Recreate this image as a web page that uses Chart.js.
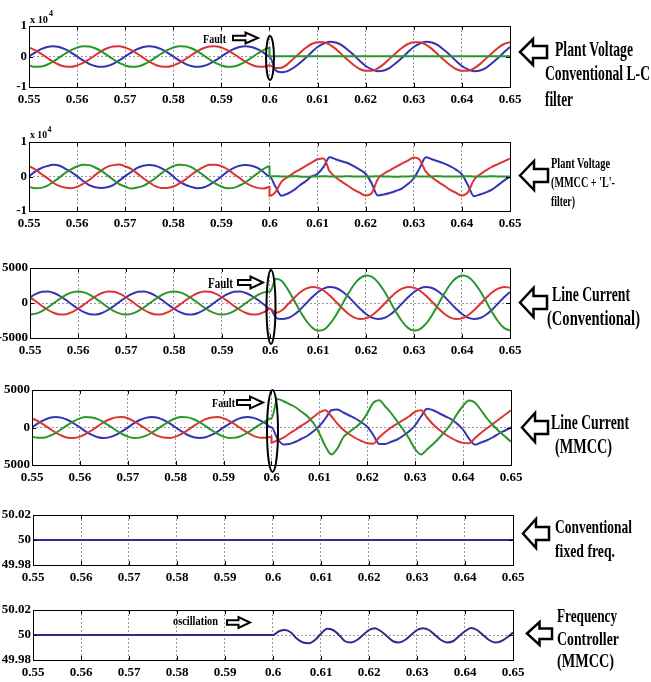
<!DOCTYPE html>
<html>
<head>
<meta charset="utf-8">
<script src="https://cdn.jsdelivr.net/npm/chart.js@4.4.0/dist/chart.umd.min.js"></script>
<style>
  html, body { margin: 0; padding: 0; background: #fff; }
  #page { position: relative; width: 651px; height: 682px; overflow: hidden; background: #fff; }
  #page canvas { position: absolute; left: 0; }
  #notes { position: absolute; left: 0; top: 0; }
  #notes text { font-family: "Liberation Serif", "Times New Roman", serif; font-weight: bold; fill: #000; }
</style>
</head>
<body>
<div id="page">
  <canvas id="p1"></canvas>
  <canvas id="p2"></canvas>
  <canvas id="p3"></canvas>
  <canvas id="p4"></canvas>
  <canvas id="p5"></canvas>
  <canvas id="p6"></canvas>
  <svg id="notes" width="651" height="682" viewBox="0 0 651 682">
    <!-- fault markers -->
    <g fill="none" stroke="#000" stroke-width="2">
      <ellipse cx="270" cy="58" rx="4" ry="22"/>
      <ellipse cx="271" cy="307" rx="4.5" ry="37"/>
      <ellipse cx="272.5" cy="431" rx="5.5" ry="41"/>
    </g>
    <g fill="#fff" stroke="#000" stroke-width="2" stroke-linejoin="miter">
      <path d="M233,35.8 L245.5,35.8 L245.5,32.5 L258,38 L245.5,43.5 L245.5,40.2 L233,40.2 Z"/>
      <path d="M238,280 L250.5,280 L250.5,276.5 L263,282.5 L250.5,288.5 L250.5,285 L238,285 Z"/>
      <path d="M237,400 L250,400 L250,396.5 L263,402.5 L250,408.5 L250,405 L237,405 Z"/>
      <path d="M227,620.3 L238.5,620.3 L238.5,617 L250,622.5 L238.5,628 L238.5,624.7 L227,624.7 Z"/>
    </g>
    <!-- big arrows pointing at the panels -->
    <g fill="#fff" stroke="#000" stroke-width="2.5" stroke-linejoin="miter">
      <path d="M520,52 L533,39 L533,46 L547,46 L547,58 L533,58 L533,65 Z"/>
      <path d="M520,175.5 L534,161 L534,169 L548,169 L548,182 L534,182 L534,190 Z"/>
      <path d="M520,302.5 L533.5,288 L533.5,296 L547,296 L547,309 L533.5,309 L533.5,317 Z"/>
      <path d="M522,427.5 L535,413 L535,421 L548,421 L548,434 L535,434 L535,442 Z"/>
      <path d="M523,533.5 L536,519 L536,527 L549,527 L549,540 L536,540 L536,548 Z"/>
      <path d="M527,633.5 L539.5,622 L539.5,628.5 L552,628.5 L552,639 L539.5,639 L539.5,645 Z"/>
    </g>
    <text x="203" y="42.5" font-size="13" textLength="23" lengthAdjust="spacingAndGlyphs">Fault</text>
    <text x="208" y="287.5" font-size="14" textLength="25" lengthAdjust="spacingAndGlyphs">Fault</text>
    <text x="212" y="406.5" font-size="13" textLength="23" lengthAdjust="spacingAndGlyphs">Fault</text>
    <text x="173" y="625" font-size="13" textLength="45" lengthAdjust="spacingAndGlyphs">oscillation</text>
    <text x="30" y="23" font-size="11" textLength="18" lengthAdjust="spacingAndGlyphs">x 10</text>
    <text x="49" y="16" font-size="8">4</text>
    <text x="30" y="137.5" font-size="11" textLength="17" lengthAdjust="spacingAndGlyphs">x 10</text>
    <text x="47.5" y="132" font-size="8">4</text>

    <text x="555" y="56" font-size="20" textLength="78" lengthAdjust="spacingAndGlyphs">Plant Voltage</text>
    <text x="545" y="80" font-size="20" textLength="105" lengthAdjust="spacingAndGlyphs">Conventional L-C</text>
    <text x="545" y="106" font-size="20" textLength="28" lengthAdjust="spacingAndGlyphs">filter</text>
    <text x="551" y="168" font-size="15" textLength="59" lengthAdjust="spacingAndGlyphs">Plant Voltage</text>
    <text x="551" y="187" font-size="15" textLength="64" lengthAdjust="spacingAndGlyphs">(MMCC + 'L'-</text>
    <text x="551" y="206" font-size="15" textLength="24" lengthAdjust="spacingAndGlyphs">filter)</text>
    <text x="552" y="300.5" font-size="20" textLength="78" lengthAdjust="spacingAndGlyphs">Line Current</text>
    <text x="547" y="325" font-size="20" textLength="93" lengthAdjust="spacingAndGlyphs">(Conventional)</text>
    <text x="551" y="429" font-size="20" textLength="78" lengthAdjust="spacingAndGlyphs">Line Current</text>
    <text x="555" y="453" font-size="20" textLength="57" lengthAdjust="spacingAndGlyphs">(MMCC)</text>
    <text x="555" y="533" font-size="19" textLength="77" lengthAdjust="spacingAndGlyphs">Conventional</text>
    <text x="555" y="556.5" font-size="19" textLength="60" lengthAdjust="spacingAndGlyphs">fixed freq.</text>
    <text x="557" y="621.5" font-size="18" textLength="60" lengthAdjust="spacingAndGlyphs">Frequency</text>
    <text x="557" y="645" font-size="18" textLength="62" lengthAdjust="spacingAndGlyphs">Controller</text>
    <text x="557" y="667" font-size="18" textLength="57" lengthAdjust="spacingAndGlyphs">(MMCC)</text>
  </svg>
</div>
<script>
// time axis (s); 0.6 appears twice so the fault can jump
const TIME = [
  0.55, 0.55125, 0.5525, 0.55375, 0.555, 0.55625, 0.5575, 0.55875, 0.56, 0.56125, 0.5625, 0.56375, 0.565, 0.56625, 0.5675, 0.56875,
  0.57, 0.57125, 0.5725, 0.57375, 0.575, 0.57625, 0.5775, 0.57875, 0.58, 0.58125, 0.5825, 0.58375, 0.585, 0.58625, 0.5875, 0.58875,
  0.59, 0.59125, 0.5925, 0.59375, 0.595, 0.59625, 0.5975, 0.59875, 0.6,
  0.6, 0.60125, 0.6025, 0.60375, 0.605, 0.60625, 0.6075, 0.60875, 0.61, 0.61125, 0.6125, 0.61375, 0.615, 0.61625, 0.6175, 0.61875,
  0.62, 0.62125, 0.6225, 0.62375, 0.625, 0.62625, 0.6275, 0.62875, 0.63, 0.63125, 0.6325, 0.63375, 0.635, 0.63625, 0.6375, 0.63875,
  0.64, 0.64125, 0.6425, 0.64375, 0.645, 0.64625, 0.6475, 0.64875, 0.65
];

// Plant voltage, conventional L-C filter (x 10^4)
const lcVoltBlue = [
  0,.13,.24,.31,.34,.31,.24,.13,0,-.13,-.24,-.31,-.34,-.31,-.24,-.13,
  0,.13,.24,.31,.34,.31,.24,.13,0,-.13,-.24,-.31,-.34,-.31,-.24,-.13,
  0,.13,.24,.31,.34,.31,.24,.13,0,
  0,-.45,-.52,-.48,-.37,-.22,-.05,.14,.31,.42,.48,.46,.37,.22,.05,-.14,
  -.31,-.42,-.48,-.46,-.37,-.22,-.05,.14,.31,.42,.48,.46,.37,.22,.05,-.14,
  -.31,-.42,-.48,-.46,-.37,-.22,-.05,.14,.31
];
const lcVoltRed = [
  .29,.21,.09,-.04,-.17,-.27,-.33,-.34,-.29,-.21,-.09,.04,.17,.27,.33,.34,
  .29,.21,.09,-.04,-.17,-.27,-.33,-.34,-.29,-.21,-.09,.04,.17,.27,.33,.34,
  .29,.21,.09,-.04,-.17,-.27,-.33,-.34,-.29,
  -.29,-.38,-.37,-.25,-.07,.11,.28,.41,.47,.47,.39,.25,.07,-.11,-.28,-.41,
  -.47,-.47,-.39,-.25,-.07,.11,.28,.41,.47,.47,.39,.25,.07,-.11,-.28,-.41,
  -.47,-.47,-.39,-.25,-.07,.11,.28,.41,.47
];
const lcVoltGreen = [
  -.29,-.34,-.33,-.27,-.17,-.04,.09,.21,.29,.34,.33,.27,.17,.04,-.09,-.21,
  -.29,-.34,-.33,-.27,-.17,-.04,.09,.21,.29,.34,.33,.27,.17,.04,-.09,-.21,
  -.29,-.34,-.33,-.27,-.17,-.04,.09,.21,.29,
  .01,.01,.01,.01,.01,.01,.01,.01,.01,.01,.01,.01,.01,.01,.01,.01,
  .01,.01,.01,.01,.01,.01,.01,.01,.01,.01,.01,.01,.01,.01,.01,.01,
  .01,.01,.01,.01,.01,.01,.01,.01,.01
];

// Plant voltage, MMCC + L filter (x 10^4)
const mmccVoltBlue = [
  0,.14,.24,.30,.34,.32,.23,.13,.01,-.13,-.25,-.31,-.33,-.31,-.25,-.12,
  .01,.13,.25,.31,.33,.31,.24,.14,0,-.14,-.24,-.30,-.34,-.32,-.24,-.13,
  0,.14,.24,.31,.33,.31,.25,.13,.01,
  .01,-.30,-.56,-.50,-.40,-.26,-.14,0,.08,.28,.56,.50,.44,.39,.30,.20,
  .08,-.20,-.55,-.52,-.48,-.42,-.35,-.22,-.05,.25,.56,.50,.44,.38,.30,.20,
  .06,-.25,-.57,-.52,-.46,-.38,-.25,-.12,0
];
const mmccVoltRed = [
  .30,.21,.08,-.04,-.18,-.27,-.32,-.34,-.30,-.21,-.10,.04,.17,.28,.33,.35,
  .29,.22,.09,-.05,-.17,-.28,-.33,-.33,-.29,-.20,-.09,.05,.17,.27,.34,.34,
  .30,.21,.08,-.04,-.18,-.27,-.33,-.35,-.30,
  -.56,-.45,-.15,-.02,.10,.20,.30,.40,.50,.52,.15,-.02,-.15,-.26,-.38,-.47,
  -.55,-.48,-.08,.08,.18,.28,.37,.46,.55,.48,.14,-.02,-.15,-.26,-.38,-.47,
  -.55,-.46,-.10,.06,.18,.28,.36,.44,.52
];
const mmccVoltGreen = [
  -.30,-.34,-.33,-.27,-.16,-.04,.10,.21,.29,.34,.33,.26,.17,.04,-.09,-.22,
  -.29,-.35,-.32,-.27,-.17,-.05,.09,.21,.30,.34,.33,.27,.16,.04,-.10,-.21,
  -.29,-.34,-.33,-.26,-.17,-.04,.09,.22,.30,
  0,.01,0,0,.01,0,-.01,0,0,.01,0,0,0,.01,0,0,
  0,0,.01,0,0,-.01,0,0,.01,0,0,0,.01,0,0,0,
  0,.01,0,0,0,.01,0,0,0
];

// Line current, conventional (A)
const convCurBlue = [
  820,1310,1600,1640,1430,1000,420,-220,-820,-1310,-1600,-1640,-1430,-1000,-420,220,
  820,1310,1600,1640,1430,1000,420,-220,-820,-1310,-1600,-1640,-1430,-1000,-420,220,
  820,1310,1600,1640,1430,1000,420,-220,-820,
  -820,-2100,-2300,-2150,-1680,-950,-70,810,1580,2100,2300,2150,1680,950,70,-810,
  -1580,-2100,-2300,-2150,-1680,-950,-70,810,1580,2100,2300,2150,1680,950,70,-810,
  -1580,-2100,-2300,-2150,-1680,-950,-70,810,1580
];
const convCurRed = [
  820,220,-420,-1000,-1430,-1640,-1600,-1310,-820,-220,420,1000,1430,1640,1600,1310,
  820,220,-420,-1000,-1430,-1640,-1600,-1310,-820,-220,420,1000,1430,1640,1600,1310,
  820,220,-420,-1000,-1430,-1640,-1600,-1310,-820,
  -820,-1400,-1040,-180,710,1490,2050,2290,2190,1750,1040,180,-710,-1490,-2050,-2290,
  -2190,-1750,-1040,-180,710,1490,2050,2290,2190,1750,1040,180,-710,-1490,-2050,-2290,
  -2190,-1750,-1040,-180,710,1490,2050,2290,2190
];
const convCurGreen = [
  -1650,-1520,-1170,-630,0,630,1170,1520,1650,1520,1170,630,0,-630,-1170,-1520,
  -1650,-1520,-1170,-630,0,630,1170,1520,1650,1520,1170,630,0,-630,-1170,-1520,
  -1650,-1520,-1170,-630,0,630,1170,1520,1650,
  1650,3450,3100,1900,400,-1150,-2500,-3500,-3950,-3800,-2960,-1740,-250,1280,2610,3550,
  3940,3740,2960,1740,250,-1280,-2610,-3550,-3940,-3740,-2960,-1740,-250,1280,2610,3550,
  3940,3740,2960,1740,250,-1280,-2610,-3550,-3940
];

// Line current, MMCC (A)
const mmccCurBlue = [
  0,560,980,1300,1390,1280,1000,530,10,-550,-980,-1300,-1410,-1280,-990,-530,
  -10,540,1000,1280,1410,1290,980,550,0,-530,-1000,-1290,-1390,-1300,-980,-550,
  10,530,990,1300,1400,1280,990,540,0,
  0,-1500,-2250,-2200,-1900,-1500,-1100,-500,200,1200,2300,2400,2000,1600,1200,700,
  100,-1000,-2200,-2200,-1900,-1600,-1100,-500,300,1500,2500,2300,1900,1500,1100,500,
  -300,-1500,-2300,-2000,-1700,-1300,-800,-400,0
];
const mmccCurRed = [
  1220,860,350,-190,-700,-1100,-1360,-1390,-1210,-850,-370,180,710,1100,1350,1400,
  1230,840,360,-170,-710,-1110,-1340,-1400,-1220,-860,-350,190,700,1120,1340,1390,
  1220,850,370,-180,-690,-1110,-1350,-1380,-1220,
  -2000,-1700,-1350,-800,-300,250,750,1400,2000,2300,1500,500,-300,-900,-1400,-1800,
  -2100,-2150,-1300,-600,0,500,1000,1500,2100,2300,1300,400,-300,-900,-1400,-1800,
  -2050,-2100,-1400,-700,-100,500,1100,1700,2300
];
const mmccCurGreen = [
  -1220,-1380,-1360,-1100,-710,-170,360,860,1220,1400,1340,1110,690,180,-370,-850,
  -1210,-1390,-1350,-1120,-700,-180,350,850,1230,1390,1350,1100,700,190,-360,-860,
  -1220,-1400,-1350,-1110,-700,-170,360,850,1220,
  1250,3800,3500,3100,2700,2100,1500,600,-800,-2500,-3600,-2800,-1300,-600,0,700,
  1900,3300,3650,2800,1900,800,-300,-1500,-2900,-3600,-2900,-2200,-1400,-500,500,1800,
  2900,3600,3300,2300,1200,300,-500,-1200,-1900
];

// Frequency (Hz)
const fixedTime = [0.55, 0.65];
const fixedFreq = [50, 50];
const ctrlTime = [
  0.55, 0.6, 0.60125, 0.6025, 0.60375, 0.605, 0.60625, 0.6075, 0.60875, 0.61, 0.61125, 0.6125, 0.61375, 0.615,
  0.61625, 0.6175, 0.61875, 0.62, 0.62125, 0.6225, 0.62375, 0.625, 0.62625, 0.6275, 0.62875, 0.63, 0.63125,
  0.6325, 0.63375, 0.635, 0.63625, 0.6375, 0.63875, 0.64, 0.64125, 0.6425, 0.64375, 0.645, 0.64625, 0.6475,
  0.64875, 0.65
];
const ctrlFreq = [
  50, 50, 50.003, 50.004, 50.002, 49.997, 49.994, 49.9935, 49.996, 50.001, 50.005, 50.004, 50.000, 49.995,
  49.994, 49.996, 50.000, 50.004, 50.0055, 50.003, 49.999, 49.995, 49.994, 49.996, 50.000, 50.004, 50.0055,
  50.004, 50.000, 49.996, 49.994, 49.995, 49.999, 50.003, 50.0055, 50.004, 50.000, 49.996, 49.994, 49.995,
  49.998, 50.002
];

// tick values and the labels printed on the figure
const xTickValues = [0.55, 0.56, 0.57, 0.58, 0.59, 0.6, 0.61, 0.62, 0.63, 0.64, 0.65];
const xTickLabels = ['0.55', '0.56', '0.57', '0.58', '0.59', '0.6', '0.61', '0.62', '0.63', '0.64', '0.65'];
const voltTicks = [-1, 0, 1];
const voltTickLabels = ['-1', '0', '1'];
const curTicks = [-5000, 0, 5000];
const convCurTickLabels = ['-5000', '0', '5000'];
const mmccCurTickLabels = ['5000', '0', '5000'];
const freqTicks = [49.98, 50, 50.02];
const freqTickLabels = ['49.98', '50', '50.02'];

// colours
const RED = '#dc3434';
const BLUE = '#3434b2';
const GREEN = '#2a962a';
const NAVY = '#2c2c8a';

// frame with inward tick marks, like the original plots
const framePlugin = {
  id: 'frame',
  afterDraw(chart) {
    const { ctx, chartArea: a, scales } = chart;
    ctx.save();
    ctx.strokeStyle = '#000';
    ctx.lineWidth = 1;
    ctx.beginPath();
    scales.x.ticks.forEach(t => {
      const px = Math.round(scales.x.getPixelForValue(t.value)) + 0.5;
      ctx.moveTo(px, a.bottom); ctx.lineTo(px, a.bottom - 4);
      ctx.moveTo(px, a.top); ctx.lineTo(px, a.top + 4);
    });
    scales.y.ticks.forEach(t => {
      const py = Math.round(scales.y.getPixelForValue(t.value)) + 0.5;
      ctx.moveTo(a.left, py); ctx.lineTo(a.left + 4, py);
      ctx.moveTo(a.right, py); ctx.lineTo(a.right - 4, py);
    });
    ctx.stroke();
    ctx.strokeRect(Math.round(a.left) + 0.5, Math.round(a.top) + 0.5, Math.round(a.width), Math.round(a.height));
    ctx.restore();
  }
};

const tickFont = { family: '"Liberation Serif", "Times New Roman", serif', weight: 'bold', size: 13 };

function drawPanel(id, box, series, yTicks, yLabels) {
  const canvas = document.getElementById(id);
  const padTop = 12, axisH = 24, width = 535;
  canvas.width = width;
  canvas.height = box.bottom - box.top + padTop + axisH;
  canvas.style.top = (box.top - padTop) + 'px';

  return new Chart(canvas, {
    type: 'line',
    data: {
      datasets: series.map(s => ({
        data: s.x.map((t, i) => ({ x: t, y: s.y[i] })),
        borderColor: s.color,
        borderWidth: 2,
        pointRadius: 0,
        cubicInterpolationMode: 'monotone',
        fill: false
      }))
    },
    options: {
      responsive: false,
      animation: false,
      events: [],
      layout: { padding: { top: padTop, right: width - box.right, bottom: 0, left: 0 } },
      plugins: { legend: { display: false }, tooltip: { enabled: false } },
      scales: {
        x: {
          type: 'linear',
          min: 0.55,
          max: 0.65,
          afterBuildTicks: axis => { axis.ticks = xTickValues.map(v => ({ value: v })); },
          afterFit: axis => { axis.height = axisH; },
          ticks: {
            autoSkip: false, maxRotation: 0, padding: 5, color: '#000', font: tickFont,
            callback: (v, i) => xTickLabels[i]
          },
          grid: { color: '#999', lineWidth: 1, drawTicks: false },
          border: { display: false, dash: [2, 2] }
        },
        y: {
          type: 'linear',
          min: yTicks[0],
          max: yTicks[yTicks.length - 1],
          afterBuildTicks: axis => { axis.ticks = yTicks.map(v => ({ value: v })); },
          afterFit: axis => { axis.width = box.left; },
          ticks: {
            padding: 2, color: '#000', font: tickFont,
            callback: (v, i) => yLabels[i]
          },
          grid: { color: '#999', lineWidth: 1, drawTicks: false },
          border: { display: false, dash: [2, 2] }
        }
      }
    },
    plugins: [framePlugin]
  });
}

drawPanel('p1', { left: 29, top: 26, right: 510, bottom: 87 }, [
  { x: TIME, y: lcVoltGreen, color: GREEN },
  { x: TIME, y: lcVoltRed, color: RED },
  { x: TIME, y: lcVoltBlue, color: BLUE }
], voltTicks, voltTickLabels);

drawPanel('p2', { left: 29, top: 142, right: 510, bottom: 211 }, [
  { x: TIME, y: mmccVoltGreen, color: GREEN },
  { x: TIME, y: mmccVoltRed, color: RED },
  { x: TIME, y: mmccVoltBlue, color: BLUE }
], voltTicks, voltTickLabels);

drawPanel('p3', { left: 30, top: 268, right: 510, bottom: 338 }, [
  { x: TIME, y: convCurGreen, color: GREEN },
  { x: TIME, y: convCurRed, color: RED },
  { x: TIME, y: convCurBlue, color: BLUE }
], curTicks, convCurTickLabels);

drawPanel('p4', { left: 32, top: 390, right: 511, bottom: 465 }, [
  { x: TIME, y: mmccCurGreen, color: GREEN },
  { x: TIME, y: mmccCurRed, color: RED },
  { x: TIME, y: mmccCurBlue, color: BLUE }
], curTicks, mmccCurTickLabels);

drawPanel('p5', { left: 33, top: 515, right: 513, bottom: 565 }, [
  { x: fixedTime, y: fixedFreq, color: NAVY }
], freqTicks, freqTickLabels);

drawPanel('p6', { left: 33, top: 610, right: 513, bottom: 660 }, [
  { x: ctrlTime, y: ctrlFreq, color: NAVY }
], freqTicks, freqTickLabels);
</script>
</body>
</html>
